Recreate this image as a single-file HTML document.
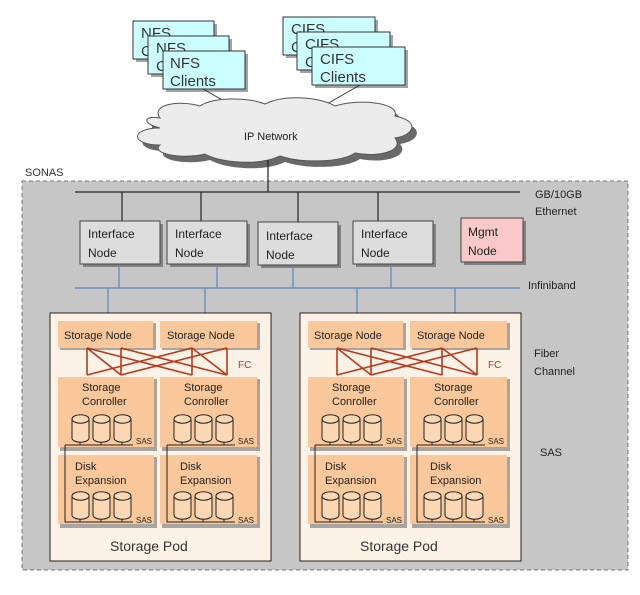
<!DOCTYPE html>
<html><head><style>
body{margin:0;background:#fff;}
svg text{font-family:"Liberation Sans",sans-serif;}
</style></head><body>
<svg width="640" height="590" viewBox="0 0 640 590" xmlns="http://www.w3.org/2000/svg">
<defs>
<g id="cyl">
<path d="M0,4 a8,4 0 0 1 17,0 v19 a8,4 0 0 1 -17,0 z" fill="#fcd9b4" stroke="#222" stroke-width="1"/>
<path d="M0,4 a8,4 0 0 0 17,0" fill="none" stroke="#222" stroke-width="1"/>
</g>
<g id="stack">
<use href="#cyl" x="0" y="0"/><use href="#cyl" x="21" y="0"/><use href="#cyl" x="42" y="0"/>
<path d="M8,27 v3 M29,27 v3 M50,27 v3" stroke="#222"/>
</g>
<g id="pod">
<rect x="0" y="0" width="221" height="248" fill="#fdf2e6" stroke="#222" stroke-width="1"/>
<rect x="10" y="10" width="96" height="27" fill="#555" opacity="0.5"/>
<rect x="8" y="8" width="95" height="27" fill="#fac89a"/>
<rect x="112" y="10" width="98" height="27" fill="#555" opacity="0.5"/>
<rect x="110" y="8" width="97" height="27" fill="#fac89a"/>
<text x="14" y="26" font-size="11" fill="#222">Storage Node</text>
<text x="117" y="26" font-size="11" fill="#222">Storage Node</text>
<g stroke="#b8391c" stroke-width="1.6" fill="none">
<path d="M37,35 v27 M71,35 v27 M142,35 v27 M177,35 v27"/>
<path d="M37,35 L142,62 M71,35 L177,62 M142,35 L37,62 M177,35 L71,62"/>
<path d="M37,35 L71,62 M142,35 L177,62"/>
</g>
<text x="188" y="55" font-size="10" fill="#b8391c">FC</text>
<rect x="10" y="66" width="97" height="72" fill="#555" opacity="0.5"/>
<rect x="8" y="64" width="96" height="70" fill="#fac89a"/>
<rect x="112" y="66" width="98" height="72" fill="#555" opacity="0.5"/>
<rect x="110" y="64" width="97" height="70" fill="#fac89a"/>
<text x="32" y="78" font-size="11" fill="#222">Storage</text>
<text x="32" y="92" font-size="11" fill="#222">Conroller</text>
<text x="134" y="78" font-size="11" fill="#222">Storage</text>
<text x="134" y="92" font-size="11" fill="#222">Conroller</text>
<rect x="10" y="144" width="97" height="71" fill="#555" opacity="0.5"/>
<rect x="8" y="142" width="96" height="69" fill="#fac89a"/>
<rect x="112" y="144" width="98" height="71" fill="#555" opacity="0.5"/>
<rect x="110" y="142" width="97" height="69" fill="#fac89a"/>
<text x="25" y="157" font-size="11" fill="#222">Disk</text>
<text x="25" y="171" font-size="11" fill="#222">Expansion</text>
<text x="130" y="157" font-size="11" fill="#222">Disk</text>
<text x="130" y="171" font-size="11" fill="#222">Expansion</text>
<use href="#stack" x="22" y="102"/><use href="#stack" x="124" y="102"/>
<use href="#stack" x="22" y="179"/><use href="#stack" x="124" y="179"/>
<g stroke="#222" fill="none" stroke-width="1">
<path d="M15,132 H83 M15,132 V209 H83"/>
<path d="M117,132 H185 M117,132 V209 H185"/>
</g>
<g font-size="8" fill="#222"><text x="86" y="131">SAS</text><text x="188" y="131">SAS</text><text x="86" y="210">SAS</text><text x="188" y="210">SAS</text></g>
<text x="60" y="238" font-size="14" fill="#333">Storage Pod</text>
</g>
</defs>
<text x="25" y="176" font-size="11" fill="#333">SONAS</text>
<rect x="22" y="181" width="606" height="389" fill="#c6c6c6" stroke="#777" stroke-dasharray="4,3"/>
<g font-size="15" fill="#333">
<rect x="136" y="24" width="81" height="38" fill="#666" opacity="0.6"/>
<rect x="133" y="21" width="81" height="38" fill="#cff" stroke="#333"/>
<text x="141" y="38">NFS</text><text x="141" y="56">Clients</text>
<rect x="151" y="39" width="81" height="38" fill="#666" opacity="0.6"/>
<rect x="148" y="36" width="81" height="38" fill="#cff" stroke="#333"/>
<text x="156" y="53">NFS</text><text x="156" y="71">Clients</text>
<rect x="166" y="54" width="82" height="38" fill="#666" opacity="0.6"/>
<rect x="163" y="51" width="82" height="38" fill="#cff" stroke="#333"/>
<text x="170" y="68">NFS</text><text x="170" y="86">Clients</text>
<rect x="286" y="20" width="92" height="38" fill="#666" opacity="0.6"/>
<rect x="283" y="17" width="92" height="38" fill="#cff" stroke="#333"/>
<text x="291" y="34">CIFS</text><text x="291" y="52">Clients</text>
<rect x="300" y="35" width="93" height="38" fill="#666" opacity="0.6"/>
<rect x="297" y="32" width="93" height="38" fill="#cff" stroke="#333"/>
<text x="305" y="49">CIFS</text><text x="305" y="67">Clients</text>
<rect x="315" y="50" width="93" height="38" fill="#666" opacity="0.6"/>
<rect x="312" y="47" width="93" height="38" fill="#cff" stroke="#333"/>
<text x="320" y="64">CIFS</text><text x="320" y="82">Clients</text>
</g>
<path d="M203,89 L240,110 M360,85 L325,105" stroke="#333"/>
<g transform="translate(5,6)" fill="#444" opacity="0.8">
<path d="M160,118 C150,104 180,100 200,106 C215,96 250,98 265,104 C285,94 320,97 335,106 C360,98 400,103 395,116 C420,121 415,135 395,138 C405,150 380,158 355,153 C340,163 300,163 280,156 C260,166 220,163 205,154 C180,160 150,153 160,145 C130,145 130,128 160,128 C140,123 145,115 160,118 Z"/>
</g>
<path d="M160,118 C150,104 180,100 200,106 C215,96 250,98 265,104 C285,94 320,97 335,106 C360,98 400,103 395,116 C420,121 415,135 395,138 C405,150 380,158 355,153 C340,163 300,163 280,156 C260,166 220,163 205,154 C180,160 150,153 160,145 C130,145 130,128 160,128 C140,123 145,115 160,118 Z" fill="#ececec" stroke="#555"/>
<text x="244" y="140" font-size="11" fill="#222">IP Network</text>
<path d="M268,160 V192 M75,192 H520 M122,192 V222 M201,192 V222 M298,192 V222 M378,192 V222" stroke="#222" stroke-width="1.2" fill="none"/>
<g font-size="11" fill="#222"><text x="535" y="198">GB/10GB</text><text x="535" y="215">Ethernet</text><text x="528" y="289">Infiniband</text><text x="534" y="357">Fiber</text><text x="534" y="375">Channel</text><text x="540" y="456">SAS</text></g>
<g font-size="12" fill="#222">
<rect x="83" y="224" width="80" height="43" fill="#555" opacity="0.6"/>
<rect x="80" y="221" width="80" height="43" fill="#ddd" stroke="#444"/>
<text x="88" y="238">Interface</text><text x="88" y="257">Node</text>
<rect x="170" y="224" width="80" height="43" fill="#555" opacity="0.6"/>
<rect x="167" y="221" width="80" height="43" fill="#ddd" stroke="#444"/>
<text x="175" y="238">Interface</text><text x="175" y="257">Node</text>
<rect x="261" y="225" width="80" height="43" fill="#555" opacity="0.6"/>
<rect x="258" y="222" width="80" height="43" fill="#ddd" stroke="#444"/>
<text x="266" y="240">Interface</text><text x="266" y="259">Node</text>
<rect x="356" y="224" width="80" height="43" fill="#555" opacity="0.6"/>
<rect x="353" y="221" width="80" height="43" fill="#ddd" stroke="#444"/>
<text x="361" y="238">Interface</text><text x="361" y="257">Node</text>
<rect x="464" y="221" width="62" height="44" fill="#555" opacity="0.6"/>
<rect x="461" y="218" width="62" height="44" fill="#f9c9c9" stroke="#444"/>
<text x="468" y="236">Mgmt</text><text x="468" y="255">Node</text>
</g>
<path d="M75,288 H520 M119,267 V288 M217,267 V288 M293,267 V288 M391,267 V288 M108,288 V313 M205,288 V313 M357,288 V313 M455,288 V313" stroke="#5b86b8" stroke-width="1.2" fill="none"/>
<use href="#pod" x="50" y="313"/>
<use href="#pod" x="300" y="313"/>
</svg>
</body></html>
